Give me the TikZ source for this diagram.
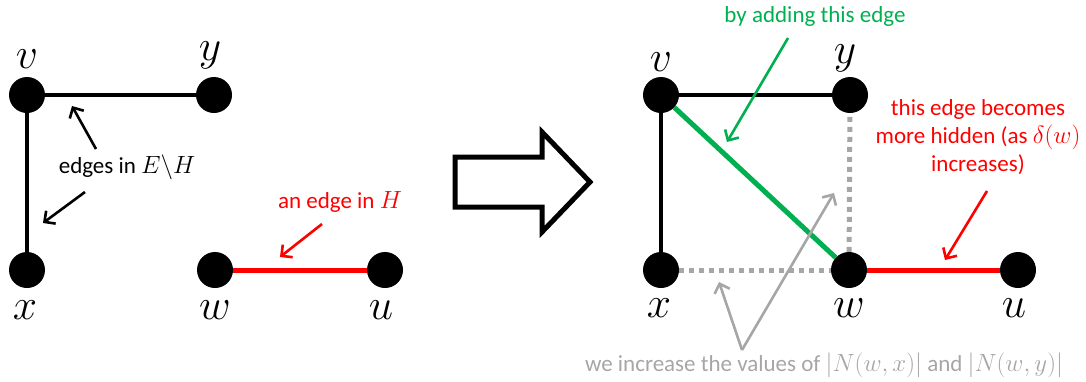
\documentclass[tikz,border=0pt]{standalone}
\usepackage{fontspec}
\setmainfont{Carlito}
\usepackage{amsmath}
\usepackage{graphicx}
\usetikzlibrary{arrows.meta,positioning}
\definecolor{hidered}{HTML}{FF0000}
\definecolor{addgreen}{HTML}{00B050}
\definecolor{notegray}{HTML}{A6A6A6}
\newcommand{\vlab}[1]{\scalebox{2.1}{$#1$}}

\begin{document}
\begin{tikzpicture}[x=1pt, y=-1pt,
  vertex/.style={circle, fill=black, minimum size=36pt, inner sep=0pt},
  vlabel/.style={font=\fontsize{20}{20}\selectfont, inner sep=0pt},
  note/.style={font=\fontsize{23}{28}\selectfont, align=center, inner sep=1pt},
  edge/.style={line width=4.5pt, black},
  hedge/.style={line width=5pt, hidered},
  gedge/.style={line width=5pt, addgreen},
  dedge/.style={line width=5pt, notegray, dash pattern=on 5pt off 5pt},
  pointer/.style={-{Straight Barb[length=8pt, width=16pt]}, line width=2.6pt}
]
  \useasboundingbox (0,0) rectangle (1086,381);

  % before
  \node[vertex] (v1) at (27,95) {};
  \node[vertex] (y1) at (214,95) {};
  \node[vertex] (x1) at (27,270) {};
  \node[vertex] (w1) at (215,270) {};
  \node[vertex] (u1) at (385,270) {};
  \node[vlabel, above=8pt of v1] {\vlab{v}};
  \node[vlabel, above=8pt of y1, xshift=-4pt] {\vlab{y}};
  \node[vlabel, below=12pt of x1, xshift=-2pt] {\vlab{x}};
  \node[vlabel, below=12pt of w1] {\vlab{w}};
  \node[vlabel, below=12pt of u1, xshift=-4pt] {\vlab{u}};

  \draw[edge] (v1) -- (y1);
  \draw[edge] (v1) -- (x1);
  \draw[hedge] (w1) -- (u1);

  \node[note] (eh) at (127,167) {edges in $E\backslash H$};
  \coordinate (eh1) at (72,106);
  \coordinate (eh2) at (43,223);
  \draw[pointer] (96,149) -- (eh1);
  \draw[pointer] (85,192) -- (eh2);

  \node[note, text=hidered] (inh) at (340,202) {an edge in $H$};
  \coordinate (inh1) at (280,257);
  \draw[pointer, hidered] (322,224) -- (inh1);

  % big arrow
  \draw[line width=5pt, miter limit=10] (455,157) -- (542,157) -- (542,132)
    -- (590,182) -- (542,232) -- (542,207) -- (455,207) -- cycle;

  % after
  \node[vertex] (v2) at (661,95) {};
  \node[vertex] (y2) at (850,95) {};
  \node[vertex] (x2) at (661,270) {};
  \node[vertex] (w2) at (849,270) {};
  \node[vertex] (u2) at (1018,270) {};
  \node[vlabel, above=5pt of v2] {\vlab{v}};
  \node[vlabel, above=5pt of y2, xshift=-5pt] {\vlab{y}};
  \node[vlabel, below=10pt of x2, xshift=-2pt] {\vlab{x}};
  \node[vlabel, below=10pt of w2] {\vlab{w}};
  \node[vlabel, below=10pt of u2, xshift=-4pt] {\vlab{u}};

  \draw[edge] (v2) -- (y2);
  \draw[edge] (v2) -- (x2);
  \draw[gedge] (v2) -- (w2);
  \draw[hedge] (w2) -- (u2);
  \draw[dedge] (x2) -- (w2);
  \draw[dedge] (w2) -- (y2);

  \node[note, text=addgreen] (add) at (815,16) {by adding this edge};
  \coordinate (add1) at (727,142);
  \draw[pointer, addgreen] (788,38) -- (add1);

  \node[note, text=hidered] (hid) at (978,137) {this edge becomes\\more hidden (as $\delta(w)$\\increases)};
  \coordinate (hid1) at (945,260);
  \draw[pointer, hidered] (987,191) -- (hid1);

  \node[note, text=notegray] (inc) at (824,365) {we increase the values of $|N(w,x)|$ and $|N(w,y)|$};
  \coordinate (apex) at (742,350);
  \coordinate (inc1) at (719,282);
  \coordinate (inc2) at (834,193);
  \draw[pointer, notegray] (apex) -- (inc1);
  \draw[pointer, notegray] (apex) -- (inc2);
\end{tikzpicture}
\end{document}
